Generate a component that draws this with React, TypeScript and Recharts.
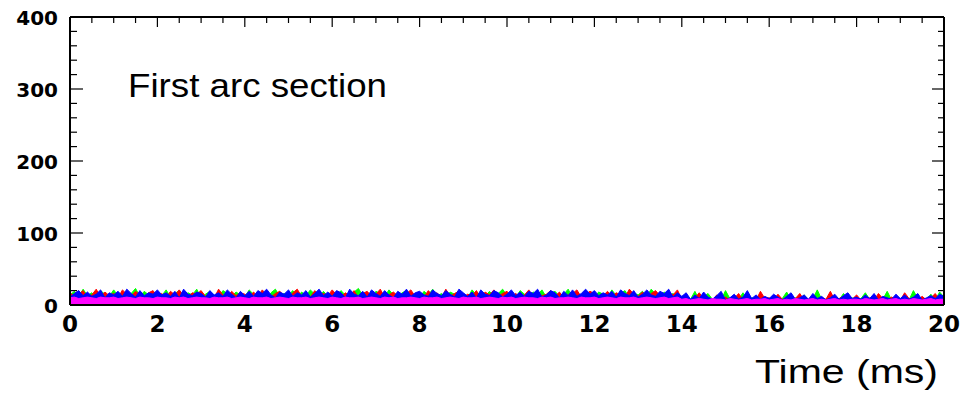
import { ComposedChart, Area, XAxis, YAxis } from 'recharts'

// time samples every 0.1 ms
const green = [
  14, 19, 11, 22, 13, 17, 10, 20, 15, 12, 21, 13, 18, 11, 16, 23, 12, 19, 14, 10,
  18, 13, 21, 11, 16, 20, 12, 17, 14, 22, 10, 15, 19, 13, 11, 20, 16, 12, 18, 14,
  11, 21, 15, 13, 19, 10, 17, 22, 12, 16, 14, 20, 11, 18, 13, 21, 15, 10, 19, 12,
  16, 12, 20, 14, 11, 18, 23, 13, 15, 10, 19, 16, 12, 21, 14, 11, 17, 20, 13, 15,
  10, 19, 14, 22, 12, 16, 11, 18, 15, 20, 13, 10, 21, 14, 17, 12, 19, 11, 16, 22,
  13, 17, 10, 20, 15, 12, 18, 14, 21, 11, 16, 19, 12, 15, 22, 10, 17, 13, 20, 14,
  12, 18, 15, 11, 21, 13, 16, 20, 10, 17, 14, 19, 12, 22, 15, 11, 18, 13, 16, 10,
  9, 14, 8, 19, 7, 11, 16, 8, 10, 7, 20, 9, 13, 8, 17, 7, 10, 9, 15, 8,
  7, 12, 8, 9, 18, 7, 10, 8, 14, 7, 9, 21, 8, 7, 11, 9, 7, 16, 8, 10,
  7, 9, 17, 8, 7, 12, 8, 19, 7, 9, 8, 13, 7, 20, 9, 7, 8, 15, 7, 18, 11,
]

const red = [
  17, 12, 15, 20, 10, 14, 22, 11, 18, 13, 16, 10, 21, 15, 12, 19, 14, 11, 17, 20,
  12, 16, 10, 19, 14, 21, 13, 11, 17, 15, 20, 12, 16, 10, 22, 14, 11, 19, 13, 17,
  15, 10, 18, 12, 21, 14, 11, 16, 19, 13, 10, 17, 22, 12, 15, 11, 20, 14, 16, 13,
  21, 14, 11, 17, 13, 20, 10, 16, 19, 12, 15, 22, 11, 14, 18, 13, 10, 16, 21, 12,
  14, 11, 20, 13, 17, 10, 22, 12, 16, 19, 11, 15, 13, 20, 10, 18, 14, 21, 12, 16,
  19, 12, 16, 11, 14, 21, 10, 17, 13, 15, 20, 12, 18, 10, 14, 16, 21, 11, 15, 19,
  16, 10, 13, 19, 12, 17, 14, 11, 22, 15, 12, 18, 10, 16, 20, 13, 11, 17, 14, 21,
  8, 12, 7, 10, 17, 8, 9, 7, 14, 8, 11, 7, 9, 16, 7, 12, 8, 7, 19, 9,
  10, 7, 15, 8, 7, 11, 9, 16, 7, 8, 13, 7, 10, 8, 19, 7, 9, 12, 7, 8,
  14, 7, 8, 10, 7, 16, 9, 7, 11, 8, 7, 17, 9, 8, 7, 12, 7, 10, 16, 7, 13,
]

const blue = [
  11, 16, 20, 13, 18, 12, 15, 21, 10, 17, 14, 19, 12, 22, 16, 11, 20, 13, 17, 15,
  21, 14, 17, 12, 19, 10, 22, 15, 13, 18, 16, 11, 20, 14, 17, 12, 21, 15, 10, 19,
  13, 19, 12, 20, 16, 22, 14, 10, 18, 15, 21, 12, 17, 14, 20, 11, 16, 22, 13, 18,
  12, 20, 17, 10, 22, 15, 13, 19, 11, 21, 16, 12, 20, 14, 10, 19, 15, 22, 12, 17,
  19, 14, 12, 21, 16, 13, 20, 15, 11, 22, 17, 12, 18, 10, 21, 15, 13, 20, 17, 11,
  15, 21, 13, 18, 12, 19, 16, 22, 11, 14, 20, 17, 10, 19, 13, 21, 12, 16, 22, 15,
  20, 13, 17, 14, 19, 11, 21, 16, 13, 20, 11, 15, 21, 14, 12, 19, 16, 22, 11, 17,
  12, 17, 8, 14, 9, 18, 11, 8, 13, 19, 7, 10, 15, 8, 11, 20, 9, 14, 8, 12,
  9, 15, 11, 7, 12, 17, 8, 10, 14, 8, 16, 9, 12, 7, 10, 15, 8, 13, 17, 9,
  11, 8, 14, 9, 16, 7, 12, 10, 8, 15, 9, 14, 8, 11, 16, 7, 10, 13, 9, 15, 12,
]

const magenta = [
  10, 11, 9, 10, 11, 10, 9, 11, 10, 10, 11, 9, 10, 11, 10, 9, 11, 10, 10, 9,
  11, 10, 10, 9, 11, 10, 11, 9, 10, 11, 10, 10, 9, 11, 10, 10, 11, 9, 10, 11,
  10, 9, 11, 10, 10, 11, 9, 10, 11, 10, 9, 11, 10, 10, 11, 9, 10, 11, 10, 9,
  11, 10, 9, 11, 10, 10, 11, 9, 10, 11, 10, 9, 11, 10, 11, 9, 10, 10, 11, 10,
  9, 11, 10, 10, 11, 9, 10, 11, 10, 9, 11, 10, 10, 11, 9, 10, 11, 10, 9, 11,
  10, 11, 9, 10, 11, 10, 10, 9, 11, 10, 11, 9, 10, 10, 11, 10, 9, 11, 10, 10,
  11, 9, 10, 11, 10, 9, 11, 10, 10, 11, 9, 10, 11, 10, 9, 10, 11, 9, 10, 11,
  8, 9, 7, 8, 9, 8, 7, 9, 8, 8, 7, 9, 8, 7, 8, 9, 7, 8, 8, 9,
  7, 8, 9, 7, 8, 7, 9, 8, 7, 8, 9, 7, 8, 7, 8, 9, 7, 8, 7, 8,
  8, 7, 9, 8, 7, 8, 9, 7, 8, 9, 7, 8, 7, 9, 8, 7, 8, 9, 7, 8, 8,
]

const xLabels = [0, 2, 4, 6, 8, 10, 12, 14, 16, 18, 20]
const xTicks = [
  0, 0.5, 1, 1.5, 2, 2.5, 3, 3.5, 4, 4.5, 5, 5.5, 6, 6.5, 7, 7.5, 8, 8.5, 9, 9.5, 10,
  10.5, 11, 11.5, 12, 12.5, 13, 13.5, 14, 14.5, 15, 15.5, 16, 16.5, 17, 17.5, 18, 18.5, 19, 19.5, 20,
]
const yTicks = [0, 20, 40, 60, 80, 100, 120, 140, 160, 180, 200, 220, 240, 260, 280, 300, 320, 340, 360, 380, 400]

const data = magenta.map((m, i) => ({
  t: i / 10,
  green: green[i],
  red: red[i],
  blue: blue[i],
  magenta: m,
}))

const LeftTick = (props: any) => {
  const { x, y, payload } = props
  const major = payload.value % 100 === 0
  return (
    <g>
      <line x1={x} x2={x + (major ? 13 : 7)} y1={y} y2={y} stroke="#000" strokeWidth={1.2} />
      {major && (
        <text x={x - 12} y={y + 8} textAnchor="end" fontFamily="DejaVu Sans" fontWeight="bold" fontSize={20} fill="#000">
          {payload.value}
        </text>
      )}
    </g>
  )
}

const RightTick = (props: any) => {
  const { x, y, payload } = props
  const major = payload.value % 100 === 0
  return <line x1={x} x2={x - (major ? 12 : 6)} y1={y} y2={y} stroke="#000" strokeWidth={1.2} />
}

const TopTick = (props: any) => {
  const { x, y, payload } = props
  const major = payload.value % 2 === 0
  return <line x1={x} x2={x} y1={y} y2={y + (major ? 10 : 6)} stroke="#000" strokeWidth={1.2} />
}

const BottomLabel = (props: any) => {
  const { x, y, payload } = props
  return (
    <text x={x} y={y + 27} textAnchor="middle" fontFamily="DejaVu Sans" fontWeight="bold" fontSize={23} fill="#000">
      {payload.value}
    </text>
  )
}

const frame = { stroke: '#000', strokeWidth: 2 }

export default function App() {
  return (
    <div style={{ position: 'absolute', left: 0, top: 0, width: 971, height: 398, background: '#fff' }}>
      <ComposedChart width={971} height={398} data={data} margin={{ top: 16, right: 26, bottom: 53, left: 0 }}>
        <XAxis xAxisId="b" dataKey="t" type="number" domain={[0, 20]} ticks={xLabels} interval={0} height={40}
          tickSize={0} tickMargin={0} tickLine={false} axisLine={frame} tick={<BottomLabel />} allowDataOverflow />
        <XAxis xAxisId="t" dataKey="t" type="number" orientation="top" domain={[0, 20]} ticks={xTicks} interval={0} height={1}
          tickSize={0} tickMargin={0} tickLine={false} axisLine={frame} tick={<TopTick />} allowDataOverflow />
        <YAxis yAxisId="l" type="number" domain={[0, 400]} ticks={yTicks} interval={0} width={70}
          tickSize={0} tickMargin={0} tickLine={false} axisLine={frame} tick={<LeftTick />} allowDataOverflow />
        <YAxis yAxisId="r" type="number" orientation="right" domain={[0, 400]} ticks={yTicks} interval={0} width={1}
          tickSize={0} tickMargin={0} tickLine={false} axisLine={frame} tick={<RightTick />} allowDataOverflow />
        <Area xAxisId="b" yAxisId="l" type="linear" dataKey="green" stroke="#00ff00" strokeWidth={1} fill="#00ff00" fillOpacity={1} dot={false} activeDot={false} isAnimationActive={false} />
        <Area xAxisId="b" yAxisId="l" type="linear" dataKey="red" stroke="#ff0000" strokeWidth={1} fill="#ff0000" fillOpacity={1} dot={false} activeDot={false} isAnimationActive={false} />
        <Area xAxisId="b" yAxisId="l" type="linear" dataKey="blue" stroke="#0000ff" strokeWidth={1} fill="#0000ff" fillOpacity={1} dot={false} activeDot={false} isAnimationActive={false} />
        <Area xAxisId="t" yAxisId="r" type="linear" dataKey="magenta" stroke="#ff00ff" strokeWidth={1} fill="#ff00ff" fillOpacity={1} dot={false} activeDot={false} isAnimationActive={false} />
      </ComposedChart>
      <svg width={971} height={398} style={{ position: 'absolute', left: 0, top: 0, pointerEvents: 'none' }}>
        <text x={128} y={97} fontFamily="Liberation Sans" fontSize={33} fill="#000" textLength={259} lengthAdjust="spacingAndGlyphs">
          First arc section
        </text>
        <text x={755} y={383} fontFamily="Liberation Sans" fontSize={33} fill="#000" textLength={183} lengthAdjust="spacingAndGlyphs">
          Time (ms)
        </text>
      </svg>
    </div>
  )
}
